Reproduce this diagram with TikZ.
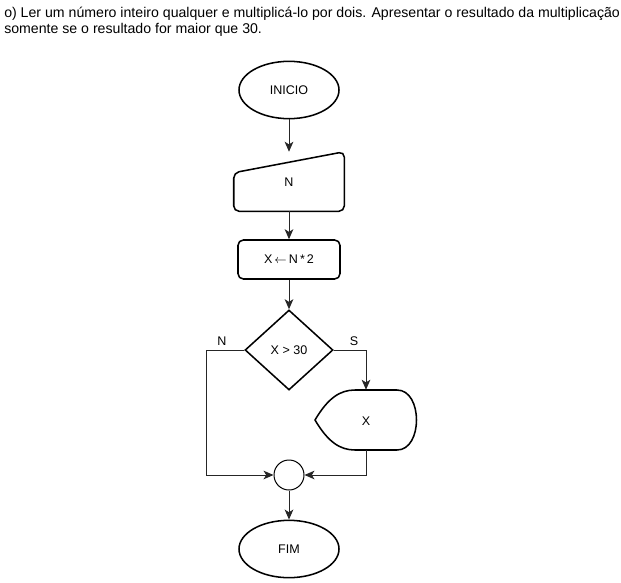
\documentclass[tikz,border=0pt]{standalone}
\usepackage{fontspec}
\setmainfont{Liberation Sans}
\usetikzlibrary{shapes.geometric,arrows.meta,calc}
\begin{document}
\begin{tikzpicture}[x=0.75pt,y=-0.75pt,
  shapeline/.style={draw=black,line width=1.15pt},
  term/.style={ellipse,shapeline,minimum width=75pt,minimum height=43pt,inner sep=0pt,font=\fontsize{9.4}{11}\selectfont},
  box/.style={inner sep=0pt,font=\fontsize{9.4}{11}\selectfont},
  conn/.style={draw=black!85,line width=0.75pt,-{Stealth[length=7.5pt,width=6.5pt,inset=2pt]}},
  lbl/.style={font=\fontsize{9.4}{11}\selectfont,inner sep=0pt},
  titletext/.style={anchor=base west,inner sep=0pt,font=\fontsize{10.6}{12}\selectfont}]
\useasboundingbox (0,0) rectangle (621,582);
% title
\node[titletext] (t1) at (4,17) {o) Ler um número inteiro qualquer e multiplicá-lo por dois. Apresentar o resultado da multiplicação};
\node[titletext] (t2) at (4,33) {somente se o resultado for maior que 30.};
% start
\node[term] (inicio) at (289,90) {INICIO};
% manual input
\node[box,minimum width=82.5pt,minimum height=44.25pt] (in) at (289,181.5) {};
\draw[shapeline,rounded corners=4pt] ($(in.north west)+(0,21)$) -- (in.south west) -- (in.south east) -- (in.north east) -- cycle;
\node[lbl] (inlabel) at (289,182) {N};
% process
\node[box,draw=black,line width=1.15pt,rounded corners=4pt,minimum width=76.5pt,minimum height=29.25pt] (calc) at (289,259.5) {X\,$\leftarrow$\,N\,*\,2};
% decision
\node[diamond,shapeline,minimum width=66pt,minimum height=60pt,inner sep=0pt,font=\fontsize{9.4}{11}\selectfont] (dec) at (289,350) {X > 30};
% display
\node[box,minimum width=76.5pt,minimum height=45pt] (disp) at (366,420) {};
\draw[shapeline] (315,420) .. controls (328,398) and (340,390) .. (355,390) -- (397,390)
  .. controls (423,390) and (423,450) .. (397,450) -- (355,450)
  .. controls (340,450) and (328,442) .. (315,420) -- cycle;
\node[lbl] (displabel) at (366,421) {X};
% connector circle
\node[circle,draw=black,line width=0.75pt,minimum size=22.5pt,inner sep=0pt] (join) at (289,475) {};
% end
\node[term] (fim) at (289,549) {FIM};
% connectors
\draw[conn] (inicio) -- (in);
\draw[conn] (in) -- (calc);
\draw[conn] (calc) -- (dec);
\coordinate (nc) at (206,350);
\draw[conn] (dec.west) -- (nc) |- (join.west);
\draw[conn] (dec.east) -| (disp.north);
\draw[conn] (disp.south) |- (join.east);
\draw[conn] (join) -- (fim);
% labels
\node[lbl] (nlab) at (222,341) {N};
\node[lbl] (slab) at (354,341) {S};
\end{tikzpicture}
\end{document}
